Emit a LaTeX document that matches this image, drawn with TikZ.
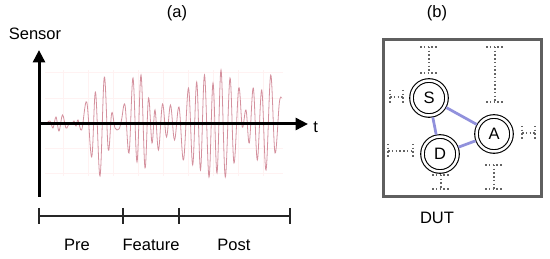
\documentclass[tikz,border=0pt]{standalone}
\usepackage{fontspec}
\setmainfont{Liberation Sans}
\usetikzlibrary{arrows.meta}
\definecolor{sig}{RGB}{212,145,158}
\definecolor{edgeblue}{RGB}{145,145,220}
\definecolor{boxgray}{RGB}{95,95,95}
\definecolor{beamgray}{RGB}{100,100,100}
\newcommand\myvbeam[3]{% x, ytop, ybottom
  \draw[beam] (#1,#2) -- (#1,#3);
  \draw[beam] (#1-9,#2) -- (#1+9,#2);
  \draw[beam] (#1-9,#3) -- (#1+9,#3);}
\newcommand\myhbeam[3]{% y, xleft, xright
  \draw[beam] (#2,#1) -- (#3,#1);
  \draw[beam] (#2,#1-7) -- (#2,#1+7);
  \draw[beam] (#3,#1-7) -- (#3,#1+7);}
\begin{document}
\begin{tikzpicture}[x=0.02cm,y=-0.02cm,
  every node/.style={font=\fontsize{9.4pt}{11pt}\selectfont},
  lbl/.style={inner sep=0pt},
  axis/.style={line width=0.06cm,-{Triangle[length=0.25cm,width=0.24cm]}},
  tline/.style={line width=0.022cm,black!85},
  beam/.style={line width=0.022cm,beamgray,dash pattern=on 0.03cm off 0.045cm},
  dnode/.style={circle,draw,line width=0.022cm,double,double distance=0.05cm,
     minimum size=0.7cm,inner sep=0pt,outer sep=0.045cm},
  link/.style={edgeblue,line width=0.055cm},
  gridl/.style={red!5,line width=0.015cm}]
\useasboundingbox (0,0) rectangle (550,259);
% titles
\node[lbl] (ta) at (177,13) {(a)};
\node[lbl] (tb) at (437,13) {(b)};
\node[lbl] (sensor) at (35,34) {Sensor};
% faint grid
\foreach \yy in {72,98,148,173} \draw[gridl] (45,\yy) -- (283,\yy);
\foreach \xx in {63,88,113,138,163,188,213,238,263} \draw[gridl] (\xx,70) -- (\xx,176);
% signal
\draw[sig,line width=0.016cm] plot[smooth,tension=0.6] coordinates {
(46,124) (50,121) (53,128) (56,117) (59,131) (62.5,115) (66,128) (69,124) (72,124) (74,121) (76,126) (78,120) (81.7,130) (86.7,102) (91.7,157) (95.5,92) (100,176) (104.3,77) (108.3,150) (111.7,113) (115,128) (119,129) (121.5,120) (125,105) (129,153) (133,78) (137,162) (141,75) (145,168) (148.5,98) (152,143) (155,110) (158.5,150) (162.5,104) (166.5,137) (170.5,105) (174.5,140) (179,107) (183.5,160) (188.5,88) (192.7,165) (196.7,82) (200.5,170) (204.5,75) (209,177) (213,83) (217,173) (221,70) (225.3,177) (230,78) (234,163) (238.7,88) (242.3,127) (246,110) (249.3,143) (253.3,88) (257.3,160) (261.7,90) (266,170) (270.7,75) (275,153) (279.3,103) (281.5,98)};
% axes
\coordinate (o) at (39,124);
\coordinate (ybot) at (39,197);
\coordinate (ytop) at (39,50);
\coordinate (xend) at (308,124);
\draw[axis] (ybot) -- (ytop);
\draw[axis] (o) -- (xend);
\node[lbl,anchor=west] (t) at (313,127) {t};
% timeline
\coordinate (p0) at (39,216);
\coordinate (p1) at (123,216);
\coordinate (p2) at (179,216);
\coordinate (p3) at (290,216);
\draw[tline] (p0) -- (p3);
\foreach \p in {p0,p1,p2,p3} \draw[tline] ([yshift=0.16cm]\p) -- ([yshift=-0.16cm]\p);
\node[lbl] (pre) at (77,245) {Pre};
\node[lbl] (feat) at (151,245) {Feature};
\node[lbl] (post) at (234,245) {Post};
% panel b
\draw[boxgray,line width=0.06cm] (383,40) rectangle (541,197);
\node[dnode] (S) at (429,98) {S};
\node[dnode] (A) at (494,134) {A};
\node[dnode] (D) at (440,154) {D};
\draw[link] (S) -- (A);
\draw[link] (S) -- (D);
\draw[link] (D) -- (A);
\myvbeam{429}{47}{73}
\myvbeam{495}{47}{102}
\myvbeam{441}{175}{189}
\myvbeam{494}{165}{189}
\myhbeam{97}{390}{403}
\myhbeam{133}{522}{535}
\myhbeam{151}{388}{413}
\node[lbl] (dut) at (437,218) {DUT};
\end{tikzpicture}
\end{document}
